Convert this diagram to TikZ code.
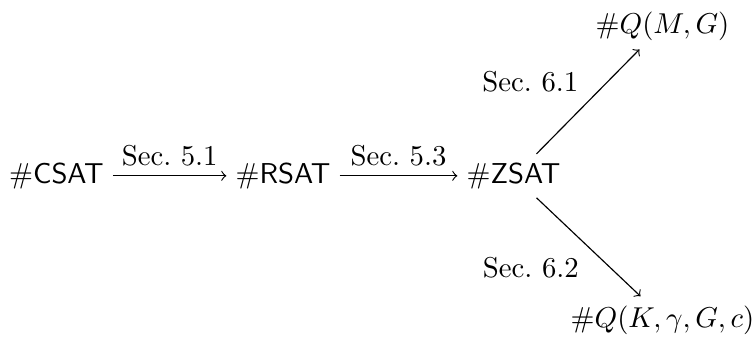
\documentclass[tikz,border=0pt]{standalone}
\usetikzlibrary{calc}
\begin{document}
\begin{tikzpicture}[x=0.348pt,y=-0.348pt,
  obj/.style={anchor=base,inner sep=3pt},
  arr/.style={->},
  lab/.style={inner sep=3.2pt}]
\useasboundingbox (0,0) rectangle (754,341);
\node[obj] (cs) at (56.5,183) {$\#\mathsf{CSAT}$};
\node[obj] (rs) at (283,183) {$\#\mathsf{RSAT}$};
\node[obj] (zs) at (513.5,183) {$\#\mathsf{ZSAT}$};
\node[obj] (qm) at (662.5,33) {$\#Q(M,G)$};
\node[obj] (qk) at (662.5,327) {$\#Q(K,\gamma,G,c)$};
\draw[arr] (cs) -- node[lab,above] {Sec.~5.1} (rs);
\draw[arr] (rs) -- node[lab,above] {Sec.~5.3} (zs);
\draw[arr] ($(zs.north)+(23,0)$) -- node[lab,midway,anchor=south east] {Sec.~6.1} ($(qm.south)+(-23,0)$);
\draw[arr] ($(zs.south)+(23,0)$) -- node[lab,midway,anchor=north east] {Sec.~6.2} ($(qk.north)+(-22,0)$);
\end{tikzpicture}
\end{document}
